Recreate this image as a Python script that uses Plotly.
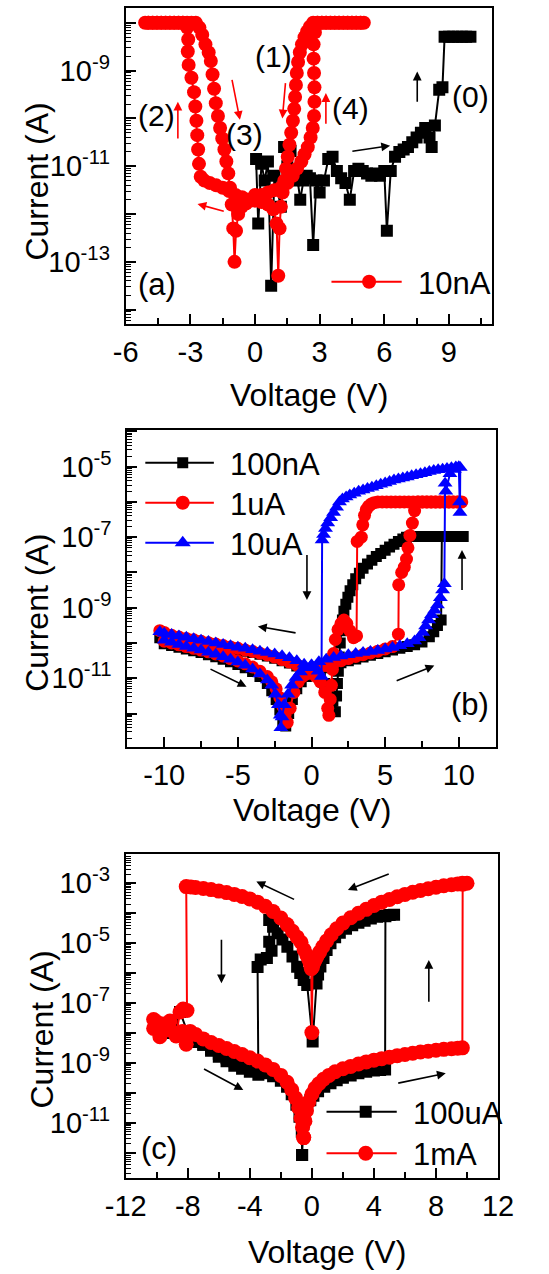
import plotly.graph_objects as go

W, H = 549, 1274
FONT = "Liberation Sans, Arial, Helvetica, sans-serif"

# ---------------- Panel (a) ----------------
a_black_V = [0.05, 0.15, 0.3, 0.45, 0.6, 0.75, 0.9, 1.05, 1.2, 1.35, 1.5, 1.65, 1.8, 1.95, 2.1, 2.25, 2.4, 2.55, 2.7, 2.85,
             3.0, 3.2, 3.4, 3.6, 3.8, 4.0, 4.2, 4.4, 4.6, 4.8, 5.0, 5.2, 5.4, 5.6, 5.8, 6.0, 6.12, 6.3, 6.5, 6.7,
             6.9, 7.1, 7.3, 7.5, 7.7, 7.9, 8.1, 8.2, 8.35, 8.55, 8.7, 8.8, 9.0, 9.2, 9.4, 9.6, 9.8, 10.0]
a_black_logI = [-10.85, -12.2, -10.95, -11.3, -10.9, -13.5, -11.2, -11.5, -11.85, -10.6, -11.0, -10.68, -11.3, -11.2, -11.7, -11.3, -11.2, -11.25, -12.65, -11.3,
                -11.55, -11.3, -10.85, -10.8, -11.1, -11.25, -11.35, -11.7, -11.1, -11.05, -11.1, -11.15, -11.2, -11.15, -11.2, -11.1, -12.35, -11.1, -10.8, -10.7,
                -10.65, -10.6, -10.5, -10.4, -10.3, -10.2, -10.4, -10.6, -10.15, -9.4, -9.35, -8.29, -8.29, -8.29, -8.29, -8.29, -8.29, -8.29]

a_red_V_set4 = [0.0, 0.3, 0.6, 0.9, 1.2, 1.5, 1.75, 1.95, 2.15, 2.3, 2.45, 2.58, 2.68, 2.74, 2.76, 2.76, 2.74, 2.72, 2.72, 2.78,
                2.9, 3.1, 3.3, 3.5, 3.7, 3.9, 4.1, 4.3, 4.5, 4.7, 4.9, 5.05]
a_red_logI_set4 = [-11.6, -11.6, -11.55, -11.5, -11.45, -11.35, -11.2, -11.05, -10.9, -10.75, -10.6, -10.4, -10.2, -9.95, -9.65, -9.35, -9.05, -8.75, -8.45, -8.2,
                   -8.0, -8.0, -8.0, -8.0, -8.0, -8.0, -8.0, -8.0, -8.0, -8.0, -8.0, -8.0]
a_red_V_reset1 = [4.9, 4.7, 4.5, 4.3, 4.1, 3.9, 3.7, 3.5, 3.3, 3.1, 2.9, 2.7, 2.55, 2.42, 2.3, 2.18, 2.08, 2.0, 1.94, 1.9,
                  1.86, 1.82, 1.76, 1.68, 1.6, 1.52, 1.44, 1.36, 1.28, 1.2, 1.14, 1.08, 1.0, 0.85, 0.6, 0.3, 0.0]
a_red_logI_reset1 = [-8.0, -8.0, -8.0, -8.0, -8.0, -8.0, -8.0, -8.0, -8.0, -8.0, -8.0, -8.0, -8.08, -8.18, -8.3, -8.45, -8.62, -8.82, -9.05, -9.3,
                     -9.55, -9.8, -10.05, -10.3, -10.55, -10.8, -11.05, -11.3, -11.55, -11.85, -12.3, -13.29, -12.2, -11.9, -11.8, -11.75, -11.72]
a_red_V_set2 = [-0.3, -0.6, -0.9, -1.2, -1.5, -1.8, -2.1, -2.35, -2.52, -2.6, -2.64, -2.68, -2.72, -2.77, -2.83, -2.95, -3.08, -3.12, -3.1, -3.15,
                -3.35, -3.55, -3.75, -3.95, -4.15, -4.35, -4.55, -4.75, -4.95, -5.1]
a_red_logI_set2 = [-11.7, -11.65, -11.6, -11.52, -11.45, -11.4, -11.35, -11.3, -11.22, -10.95, -10.65, -10.35, -10.05, -9.75, -9.45, -9.15, -8.88, -8.6, -8.35, -8.1,
                   -8.0, -8.0, -8.0, -8.0, -8.0, -8.0, -8.0, -8.0, -8.0, -8.0]
a_red_V_reset3 = [-4.95, -4.75, -4.55, -4.35, -4.15, -3.95, -3.75, -3.55, -3.35, -3.15, -2.95, -2.75, -2.58, -2.45, -2.3, -2.15, -2.05, -1.97, -1.9, -1.82,
                  -1.72, -1.62, -1.52, -1.42, -1.33, -1.24, -1.16, -1.08, -1.01, -0.95, -0.88, -0.78, -0.62, -0.42, -0.2, 0.0]
a_red_logI_reset3 = [-8.0, -8.0, -8.0, -8.0, -8.0, -8.0, -8.0, -8.0, -8.0, -8.0, -8.0, -8.0, -8.1, -8.25, -8.45, -8.62, -8.8, -9.08, -9.38, -9.68,
                     -9.95, -10.2, -10.42, -10.65, -10.9, -11.15, -11.45, -11.8, -12.3, -13.0, -12.35, -12.0, -11.85, -11.78, -11.72, -11.68]

# ---------------- Panel (b) ----------------
b_N1_V = [-0.5, -1.0, -1.5, -2.0, -2.5, -3.0, -3.5, -4.0, -4.5, -5.0, -5.5, -6.0, -6.5, -7.0, -7.5, -8.0, -8.5, -9.0, -9.5, -10.0, -10.3]

b_black_V_P = [0.0, 0.5, 1.0, 1.5, 2.0, 2.5, 3.0, 3.5, 4.0, 4.5, 5.0, 5.5, 6.0, 6.5, 7.0, 7.5, 8.0, 8.3, 8.55, 8.8,
               8.85, 9.1, 9.35, 9.6, 9.85, 10.1, 10.3]
b_black_logI_P = [-10.85, -10.78, -10.7, -10.63, -10.56, -10.5, -10.45, -10.4, -10.35, -10.3, -10.25, -10.2, -10.15, -10.1, -10.05, -9.97, -9.82, -9.68, -9.5, -9.35,
                  -6.98, -6.98, -6.98, -6.98, -6.98, -6.98, -6.98]
b_black_V_R = [10.0, 9.7, 9.4, 9.1, 8.8, 8.5, 8.2, 7.9, 7.6, 7.3, 7.0, 6.7, 6.45, 6.2, 5.9, 5.6, 5.3, 5.0, 4.7, 4.4,
               4.1, 3.8, 3.5, 3.25, 3.0, 2.8, 2.62, 2.47, 2.33, 2.2, 2.1, 2.02, 1.95, 1.88, 1.82, 1.76, 1.7, 1.62, 1.45, 1.2,
               0.9, 0.6, 0.3, 0.0]
b_black_logI_R = [-6.98, -6.98, -6.98, -6.98, -6.98, -6.98, -6.98, -6.98, -6.98, -6.98, -6.98, -6.98, -7.0, -7.05, -7.12, -7.2, -7.28, -7.37, -7.46, -7.55,
                  -7.65, -7.76, -7.88, -8.02, -8.18, -8.35, -8.52, -8.7, -8.9, -9.1, -9.35, -9.65, -10.0, -10.4, -10.8, -11.15, -11.5, -11.95, -11.65, -11.35,
                  -11.15, -11.0, -10.9, -10.82]
b_black_logI_N1 = [-10.75, -10.65, -10.57, -10.5, -10.43, -10.37, -10.32, -10.27, -10.23, -10.19, -10.15, -10.11, -10.07, -10.03, -9.99, -9.95, -9.91, -9.88, -9.85, -9.83, -9.85]
b_black_V_N2 = [-10.0, -9.5, -9.0, -8.5, -8.0, -7.5, -7.0, -6.5, -6.0, -5.5, -5.0, -4.5, -4.0, -3.5, -3.0, -2.7, -2.4, -2.15, -1.95, -1.75,
                -1.55, -1.3, -1.0, -0.7, -0.35, 0.0]
b_black_logI_N2 = [-10.02, -10.07, -10.12, -10.17, -10.22, -10.27, -10.33, -10.39, -10.46, -10.53, -10.61, -10.7, -10.81, -10.95, -11.15, -11.35, -11.6, -11.9, -12.2, -12.35,
                   -12.0, -11.6, -11.3, -11.1, -10.95, -10.85]

b_red_V_P = [0.0, 0.5, 1.0, 1.5, 2.0, 2.5, 3.0, 3.5, 4.0, 4.5, 5.0, 5.5, 5.9, 5.92, 6.12, 6.3, 6.45, 6.55, 6.68, 6.85,
             7.0, 7.25, 7.55, 7.85, 8.15, 8.45, 8.75, 9.05, 9.35, 9.65, 9.95, 10.2]
b_red_logI_P = [-10.8, -10.72, -10.64, -10.57, -10.5, -10.44, -10.38, -10.33, -10.28, -10.23, -10.17, -10.1, -9.75, -8.35, -8.0, -7.85, -7.62, -7.3, -6.95, -6.6,
                -6.25, -6.0, -6.0, -6.0, -6.0, -6.0, -6.0, -6.0, -6.0, -6.0, -6.0, -6.0]
b_red_V_R = [9.9, 9.6, 9.3, 9.0, 8.7, 8.4, 8.1, 7.8, 7.5, 7.2, 6.9, 6.6, 6.3, 6.0, 5.7, 5.4, 5.1, 4.8, 4.5,
             4.25, 4.05, 3.88, 3.72, 3.6, 3.48, 3.38, 3.1, 3.06, 2.85, 2.6, 2.4, 2.2, 2.0, 1.8, 1.62, 1.5, 1.42, 1.35, 1.27,
             1.18, 1.1, 0.9, 0.6, 0.3, 0.0]
b_red_logI_R = [-6.0, -6.0, -6.0, -6.0, -6.0, -6.0, -6.0, -6.0, -6.0, -6.0, -6.0, -6.0, -6.0, -6.0, -6.0, -6.0, -6.0, -6.0, -6.0,
                -6.02, -6.06, -6.12, -6.22, -6.38, -6.65, -7.0, -7.12, -9.8, -9.85, -9.65, -9.45, -9.35, -9.45, -9.62, -9.9, -10.3, -10.75, -11.2, -11.6,
                -12.05, -11.85, -11.4, -11.1, -10.95, -10.85]
b_red_logI_N1 = [-10.72, -10.62, -10.54, -10.47, -10.4, -10.34, -10.29, -10.24, -10.2, -10.15, -10.11, -10.07, -10.03, -9.99, -9.95, -9.91, -9.87, -9.83, -9.78, -9.7, -9.65]
b_red_V_N2 = [-10.0, -9.5, -9.0, -8.5, -8.0, -7.5, -7.0, -6.5, -6.0, -5.5, -5.0, -4.5, -4.0, -3.5, -3.0, -2.7, -2.4, -2.15, -1.95, -1.8,
              -1.65, -1.45, -1.2, -0.9, -0.6, -0.3, 0.0]
b_red_logI_N2 = [-9.95, -10.0, -10.05, -10.1, -10.15, -10.2, -10.25, -10.31, -10.37, -10.44, -10.51, -10.59, -10.68, -10.8, -10.95, -11.1, -11.3, -11.55, -11.8, -12.05,
                 -12.25, -11.85, -11.4, -11.1, -10.95, -10.87, -10.8]

b_blue_V_P = [0.0, 0.5, 1.0, 1.5, 2.0, 2.5, 3.0, 3.5, 4.0, 4.5, 5.0, 5.5, 6.0, 6.5, 7.0, 7.3, 7.55, 7.75, 7.95, 8.15,
              8.35, 8.55, 8.75, 8.9, 9.02, 9.07, 9.12, 9.4, 9.7, 10.0, 10.05, 10.08, 10.1]
b_blue_logI_P = [-10.62, -10.53, -10.46, -10.41, -10.37, -10.33, -10.3, -10.27, -10.24, -10.21, -10.17, -10.13, -10.08, -10.02, -9.94, -9.85, -9.7, -9.52, -9.35, -9.2,
                 -9.07, -8.92, -8.72, -8.5, -8.32, -5.47, -5.7, -5.2, -5.08, -5.0, -6.0, -6.3, -5.02]
b_blue_V_R = [9.8, 9.5, 9.2, 8.9, 8.6, 8.3, 8.0, 7.7, 7.4, 7.1, 6.8, 6.5, 6.2, 5.9, 5.6, 5.3, 5.0, 4.7, 4.4, 4.1,
              3.8, 3.5, 3.2, 2.9, 2.6, 2.35, 2.1, 1.9, 1.7, 1.5, 1.3, 1.1, 0.95, 0.82, 0.72, 0.68, 0.45, 0.2, 0.0]
b_blue_logI_R = [-5.01, -5.03, -5.05, -5.07, -5.09, -5.11, -5.14, -5.17, -5.2, -5.23, -5.26, -5.29, -5.32, -5.35, -5.38, -5.42, -5.46, -5.5, -5.54, -5.58,
                 -5.62, -5.66, -5.7, -5.75, -5.8, -5.86, -5.92, -6.0, -6.15, -6.3, -6.45, -6.6, -6.75, -6.92, -7.08, -10.95, -10.8, -10.7, -10.65]
b_blue_logI_N1 = [-10.6, -10.5, -10.42, -10.36, -10.31, -10.27, -10.23, -10.19, -10.15, -10.12, -10.08, -10.04, -10.0, -9.96, -9.92, -9.88, -9.84, -9.8, -9.76, -9.72, -9.68]
b_blue_V_N2 = [-10.0, -9.5, -9.0, -8.5, -8.0, -7.5, -7.0, -6.5, -6.0, -5.5, -5.0, -4.5, -4.0, -3.5, -3.0, -2.7, -2.45, -2.25, -2.12, -2.08,
               -2.0, -1.85, -1.6, -1.35, -1.05, -0.75, -0.4, 0.0]
b_blue_logI_N2 = [-9.92, -9.98, -10.04, -10.1, -10.15, -10.2, -10.26, -10.32, -10.39, -10.46, -10.54, -10.63, -10.74, -10.88, -11.05, -11.2, -11.45, -11.75, -12.05, -12.4,
                  -12.1, -11.75, -11.45, -11.2, -10.98, -10.82, -10.7, -10.62]

# ---------------- Panel (c) ----------------
c_red_V_A = [-0.53, -0.45, -0.35, -0.2, 0.0, 0.2, 0.45, 0.75, 1.1, 1.5, 2.0, 2.5, 3.0, 3.5, 4.0, 4.5, 5.0, 5.5, 6.0, 6.5,
             7.0, 7.5, 8.0, 8.5, 9.0, 9.4, 9.7, 9.72, 10.0]
c_red_logI_A = [-11.5, -10.95, -10.6, -10.3, -10.05, -9.85, -9.7, -9.55, -9.42, -9.3, -9.2, -9.12, -9.04, -8.97, -8.91, -8.86, -8.81, -8.76, -8.72, -8.68,
                -8.64, -8.61, -8.58, -8.55, -8.53, -8.51, -8.5, -3.03, -3.0]
c_red_V_B = [9.7, 9.4, 9.0, 8.5, 8.0, 7.5, 7.0, 6.5, 6.0, 5.5, 5.0, 4.5, 4.0, 3.5, 3.0, 2.5, 2.0, 1.6, 1.25, 0.95,
             0.7, 0.5, 0.33, 0.2, 0.1, 0.04, 0.0]
c_red_logI_B = [-3.0, -3.02, -3.05, -3.08, -3.13, -3.18, -3.24, -3.3, -3.37, -3.45, -3.54, -3.63, -3.74, -3.87, -4.0, -4.15, -4.33, -4.52, -4.72, -4.93,
                -5.12, -5.3, -5.45, -5.58, -5.68, -5.8, -7.99]
c_red_V_C = [-0.04, -0.1, -0.2, -0.33, -0.5, -0.7, -0.95, -1.25, -1.6, -2.0, -2.5, -3.0, -3.5, -4.0, -4.5, -5.0, -5.5, -6.0, -6.5, -7.0,
             -7.5, -7.8, -8.1, -8.05]
c_red_logI_C = [-5.85, -5.7, -5.55, -5.4, -5.22, -4.97, -4.8, -4.6, -4.38, -4.16, -3.94, -3.77, -3.63, -3.52, -3.44, -3.37, -3.31, -3.26, -3.21, -3.17,
                -3.14, -3.12, -3.11, -7.25]
c_red_V_D = [-8.3, -8.5, -8.75, -9.15, -9.6, -9.8, -10.2, -10.2, -9.95, -9.55, -9.15, -8.75, -8.35, -8.1, -7.85]
c_red_logI_D = [-7.2, -7.3, -8.1, -7.6, -7.7, -8.13, -7.55, -7.85, -7.65, -7.75, -7.9, -8.0, -7.95, -8.38, -7.95]
c_red_V_E = [-7.5, -7.0, -6.5, -6.0, -5.5, -5.0, -4.5, -4.0, -3.5, -3.0, -2.5, -2.0, -1.6, -1.3, -1.05, -0.85, -0.7, -0.6, -0.53]
c_red_logI_E = [-8.05, -8.2, -8.32, -8.42, -8.52, -8.62, -8.72, -8.83, -8.94, -9.07, -9.22, -9.42, -9.65, -9.9, -10.18, -10.5, -10.85, -11.15, -11.5]

c_black_V_A = [-0.63, -0.55, -0.45, -0.3, -0.1, 0.1, 0.4, 0.8, 1.2, 1.6, 2.0, 2.5, 3.0, 3.5, 4.0, 4.4, 4.72, 4.74, 5.0, 5.3]
c_black_logI_A = [-12.08, -11.05, -10.7, -10.45, -10.25, -10.1, -9.95, -9.8, -9.68, -9.58, -9.5, -9.42, -9.35, -9.3, -9.26, -9.24, -9.22, -4.1, -4.06, -4.05]
c_black_V_B = [5.0, 4.6, 4.2, 3.8, 3.4, 3.0, 2.6, 2.2, 1.8, 1.5, 1.2, 0.95, 0.75, 0.55, 0.4, 0.3, 0.05]
c_black_logI_B = [-4.06, -4.08, -4.12, -4.18, -4.25, -4.32, -4.4, -4.52, -4.65, -4.8, -5.0, -5.23, -5.5, -5.78, -6.05, -6.35, -8.29]
c_black_V_C = [-0.3, -0.53, -0.75, -0.95, -1.25, -1.58, -1.9, -2.21, -2.5, -2.75, -2.75, -2.6, -2.9, -3.3, -3.5, -3.45]
c_black_logI_C = [-6.4, -6.23, -6.0, -5.79, -5.45, -5.12, -4.88, -4.67, -4.45, -4.23, -4.95, -5.25, -5.5, -5.55, -5.8, -9.4]
c_black_V_D = [-4.0, -4.5, -5.0, -5.5, -6.0, -6.5, -7.0, -7.5, -8.0, -8.5, -9.0, -9.5, -10.0,
               -9.5, -9.0, -8.5, -8.0, -7.5, -7.0, -6.5, -6.0, -5.5, -5.0, -4.5, -4.0, -3.5, -3.0, -2.5, -2.0, -1.6,
               -1.3, -1.0, -0.8, -0.65, -0.63]
c_black_logI_D = [-9.3, -9.2, -9.1, -8.95, -8.8, -8.6, -8.4, -8.2, -8.0, -7.3, -7.7, -7.8, -7.7,
                  -7.9, -8.0, -8.1, -8.2, -8.3, -8.4, -8.55, -8.7, -8.85, -8.95, -9.05, -9.15, -9.25, -9.35, -9.45, -9.6, -9.8,
                  -10.05, -10.4, -10.8, -11.3, -12.08]

# ---------------- assemble sweeps ----------------
a_red_V = a_red_V_set4 + a_red_V_reset1 + a_red_V_set2 + a_red_V_reset3
a_red_logI = a_red_logI_set4 + a_red_logI_reset1 + a_red_logI_set2 + a_red_logI_reset3
b_black_V = b_black_V_P + b_black_V_R + b_N1_V + b_black_V_N2
b_black_logI = b_black_logI_P + b_black_logI_R + b_black_logI_N1 + b_black_logI_N2
b_red_V = b_red_V_P + b_red_V_R + b_N1_V + b_red_V_N2
b_red_logI = b_red_logI_P + b_red_logI_R + b_red_logI_N1 + b_red_logI_N2
b_blue_V = b_blue_V_P + b_blue_V_R + b_N1_V + b_blue_V_N2
b_blue_logI = b_blue_logI_P + b_blue_logI_R + b_blue_logI_N1 + b_blue_logI_N2
c_red_V = c_red_V_A + c_red_V_B + c_red_V_C + c_red_V_D + c_red_V_E
c_red_logI = c_red_logI_A + c_red_logI_B + c_red_logI_C + c_red_logI_D + c_red_logI_E
c_black_V = c_black_V_A + c_black_V_B + c_black_V_C + c_black_V_D
c_black_logI = c_black_logI_A + c_black_logI_B + c_black_logI_C + c_black_logI_D

legend_names = ["10nA", "100nA", "1uA", "10uA", "100uA", "1mA"]

a_xticks = [-6, -3, 0, 3, 6, 9]
b_xticks = [-10, -5, 0, 5, 10]
c_xticks = [-12, -8, -4, 0, 4, 8, 12]
a_ylabels = [-9, -11, -13]
b_ylabels = [-5, -7, -9, -11]
c_ylabels = [-3, -5, -7, -9, -11]


def cur(logs):
    return [10 ** v for v in logs]


fig = go.Figure()


def add(V, L, color, symbol, size, name, xa, ya):
    assert len(V) == len(L), name
    fig.add_trace(go.Scatter(
        x=V, y=cur(L), mode="lines+markers", name=name,
        line=dict(color=color, width=2),
        marker=dict(symbol=symbol, size=size, color=color, line=dict(width=0)),
        xaxis=xa, yaxis=ya, showlegend=False, hoverinfo="skip"))


def legend_entry(name, color, symbol, size, xa, ya, legend):
    # marker-only legend sample (its long sample line is a shape); it lives on the
    # overlay axis that carries the unlabeled decade ticks
    fig.add_trace(go.Scatter(
        x=[None], y=[None], mode="markers", name=name,
        marker=dict(symbol=symbol, size=size, color=color, line=dict(width=0)),
        xaxis=xa, yaxis=ya, legend=legend, showlegend=True, hoverinfo="skip"))


add(a_black_V, a_black_logI, "#000000", "square", 12, "forming", "x", "y")
add(a_red_V, a_red_logI, "#FF0000", "circle", 14, "10nA", "x", "y")
add(b_black_V, b_black_logI, "#000000", "square", 11, "100nA", "x2", "y2")
add(b_red_V, b_red_logI, "#FF0000", "circle", 13, "1uA", "x2", "y2")
add(b_blue_V, b_blue_logI, "#0000FF", "triangle-up", 13, "10uA", "x2", "y2")
add(c_black_V, c_black_logI, "#000000", "square", 12, "100uA", "x3", "y3")
add(c_red_V, c_red_logI, "#FF0000", "circle", 15, "1mA", "x3", "y3")

legend_entry(legend_names[0], "#FF0000", "circle", 14, "x", "y4", "legend")
legend_entry(legend_names[1], "#000000", "square", 11, "x2", "y5", "legend2")
legend_entry(legend_names[2], "#FF0000", "circle", 14, "x2", "y5", "legend3")
legend_entry(legend_names[3], "#0000FF", "triangle-up", 14, "x2", "y5", "legend4")
legend_entry(legend_names[4], "#000000", "square", 12, "x3", "y6", "legend5")
legend_entry(legend_names[5], "#FF0000", "circle", 15, "x3", "y6", "legend6")

DX = -12.0


def fx(p):
    return (p + DX) / W


def fy(p):
    return 1 - p / H


def xaxis(dom, rng, majors, minors, anchor):
    return dict(domain=dom, range=rng, anchor=anchor,
                tickmode="array", tickvals=majors, ticktext=[str(v) for v in majors],
                ticks="inside", ticklen=10, tickwidth=2, tickcolor="black",
                minor=dict(tickmode="array", tickvals=minors, ticks="inside", ticklen=6, tickwidth=1.5, tickcolor="black", showgrid=False),
                showline=True, linewidth=2, linecolor="black", mirror=True,
                showgrid=False, zeroline=False, ticklabelstandoff=1,
                tickfont=dict(family=FONT, size=29, color="black"))


def decades(rng):
    return list(range(int(rng[0]) - 1, int(rng[1]) + 2))


def yaxis(dom, rng, labeled, anchor):
    mins = [m * 10.0 ** d for d in decades(rng) for m in range(2, 10)]
    return dict(domain=dom, range=rng, type="log", anchor=anchor,
                tickmode="array", tickvals=[10.0 ** d for d in labeled],
                ticktext=["10<sup>%d</sup>" % d for d in labeled],
                ticks="inside", ticklen=10, tickwidth=2, tickcolor="black",
                minor=dict(tickmode="array", tickvals=mins, ticks="inside", ticklen=5, tickwidth=1.2, tickcolor="black", showgrid=False),
                showline=True, linewidth=2, linecolor="black", mirror=True,
                showgrid=False, zeroline=False, ticklabelstandoff=8,
                tickfont=dict(family=FONT, size=29, color="black"))


def decade_ticks(over, rng, anchor):
    # overlay axis: long inside ticks on every decade, no labels
    return dict(overlaying=over, anchor=anchor, side="left", type="log", range=rng,
                tickmode="array", tickvals=[10.0 ** d for d in decades(rng)],
                ticks="inside", ticklen=10, tickwidth=2, tickcolor="black",
                showticklabels=False, showline=False, showgrid=False, zeroline=False)


a_yr, b_yr, c_yr = [-14.3, -7.69], [-12.94, -3.96], [-12.86, -2.02]

layout = dict(
    width=W, height=H, margin=dict(l=0, r=0, t=0, b=0),
    paper_bgcolor="white", plot_bgcolor="white", showlegend=True,
    font=dict(family=FONT, color="black"),
    xaxis=xaxis([fx(124.3), fx(517.5)], [-6, 11.02], a_xticks, [-4.5, -1.5, 1.5, 4.5, 7.5, 10.5], "y"),
    yaxis=yaxis([fy(324), fy(8)], a_yr, a_ylabels, "x"),
    xaxis2=xaxis([fx(126.1), fx(521.7)], [-12.5, 12.55], b_xticks, [-7.5, -2.5, 2.5, 7.5], "y2"),
    yaxis2=yaxis([fy(746.7), fy(430)], b_yr, b_ylabels, "x2"),
    xaxis3=xaxis([fx(124.3), fx(523.5)], [-12, 12], c_xticks, [-10, -6, -2, 2, 6, 10], "y3"),
    yaxis3=yaxis([fy(1178.3), fy(854)], c_yr, c_ylabels, "x3"),
    yaxis4=decade_ticks("y", a_yr, "x"),
    yaxis5=decade_ticks("y2", b_yr, "x2"),
    yaxis6=decade_ticks("y3", c_yr, "x3"),
)

LEG_FONT = 31
ITEM_H = 1.3 * LEG_FONT + 3          # plotly legend item height
CENTER_OFF = 5 + ITEM_H / 2          # item centre below legend top


def leg(marker_x, text_x, center_y):
    iw = max(30, 2 * (text_x - marker_x) - 10)
    return dict(x=fx(marker_x - (iw + 10) / 2), y=fy(center_y - CENTER_OFF), xanchor="left", yanchor="top",
                bgcolor="rgba(0,0,0,0)", borderwidth=0, itemwidth=iw,
                font=dict(family=FONT, size=LEG_FONT, color="black"))


leg_rows = [  # (marker x, text x, centre y, line x0, line x1, colour)
    (381.7, 430.7, 281.7, 344.9, 420.2, "#FF0000"),
    (182.0, 229.3, 462.7, 145.3, 218.8, "#000000"),
    (182.0, 229.3, 502.7, 145.3, 218.8, "#FF0000"),
    (182.0, 229.3, 542.7, 145.3, 218.8, "#0000FF"),
    (378.2, 425.4, 1111.7, 339.6, 414.9, "#000000"),
    (378.2, 425.4, 1153.3, 339.6, 414.9, "#FF0000"),
]
for i, row in enumerate(leg_rows):
    key = "legend" if i == 0 else "legend%d" % (i + 1)
    layout[key] = leg(row[0], row[1], row[2])

fig.update_layout(**layout)

ann = []


def label(text, x, y, xr, yr, size=30):
    ann.append(dict(text=text, x=x, y=y, xref=xr, yref=yr, showarrow=False,
                    font=dict(family=FONT, size=size, color="black"), xanchor="center", yanchor="middle"))


def arrow(x, y, ax, ay, xr, yr, color):
    ann.append(dict(text="", x=x, y=y, ax=ax, ay=ay, xref=xr, yref=yr, axref=xr, ayref=yr,
                    showarrow=True, arrowhead=2, arrowsize=1.1, arrowwidth=1.6, arrowcolor=color,
                    standoff=0, startstandoff=0))


# panel (a) labels and arrows
label("(1)", 0.86, -8.71, "x", "y")
label("(2)", -4.59, -9.93, "x", "y")
label("(3)", -0.47, -10.34, "x", "y")
label("(4)", 4.42, -9.79, "x", "y")
label("(0)", 10.02, -9.54, "x", "y")
label("(a)", -4.56, -13.48, "x", "y", 31)
arrow(-3.58, -9.65, -3.58, -10.45, "x", "y", "#FF0000")
arrow(-0.7, -10.03, -1.08, -9.16, "x", "y", "#FF0000")
arrow(1.27, -10.0, 1.42, -9.23, "x", "y", "#FF0000")
arrow(3.29, -9.47, 3.29, -10.14, "x", "y", "#FF0000")
arrow(-2.67, -11.79, -1.38, -11.95, "x", "y", "#FF0000")
arrow(6.27, -10.57, 4.45, -10.69, "x", "y", "#000000")
arrow(7.53, -9.02, 7.53, -9.68, "x", "y", "#000000")

# panel (b)
label("(b)", 10.78, -11.75, "x2", "y2", 31)
arrow(-3.64, -9.53, -0.98, -9.72, "x2", "y2", "#000000")
arrow(-4.41, -11.24, -6.96, -10.72, "x2", "y2", "#000000")
arrow(8.34, -10.64, 5.68, -11.09, "x2", "y2", "#000000")
arrow(-0.31, -8.78, -0.31, -7.46, "x2", "y2", "#000000")
arrow(10.22, -7.36, 10.22, -8.54, "x2", "y2", "#000000")

# panel (c)
label("(c)", -9.83, -11.86, "x3", "y3", 31)
arrow(2.32, -3.22, 5.05, -2.67, "x3", "y3", "#000000")
arrow(-3.58, -2.94, -1.05, -3.56, "x3", "y3", "#000000")
arrow(-5.83, -6.34, -5.83, -4.84, "x3", "y3", "#000000")
arrow(7.54, -5.56, 7.54, -7.01, "x3", "y3", "#000000")
arrow(-4.42, -9.91, -7.05, -9.18, "x3", "y3", "#000000")
arrow(8.63, -9.35, 5.47, -9.69, "x3", "y3", "#000000")

# axis titles
for (txt, x, y, ang) in [("Voltage (V)", fx(320.4), fy(395), 0), ("Voltage (V)", fx(324), fy(810), 0),
                         ("Voltage (V)", fx(340), fy(1252), 0),
                         ("Current (A)", fx(29), fy(181.7), -90), ("Current (A)", fx(29), fy(613), -90),
                         ("Current (A)", fx(34), fy(1030), -90)]:
    ann.append(dict(text=txt, x=x, y=y, xref="paper", yref="paper", showarrow=False, textangle=ang,
                    font=dict(family=FONT, size=32, color="black"), xanchor="center", yanchor="middle"))

fig.update_layout(annotations=ann)

# long legend sample lines, drawn beneath the legend markers
shapes = []
for row in leg_rows:
    shapes.append(dict(type="line", xref="paper", yref="paper", x0=fx(row[3]), x1=fx(row[4]),
                       y0=fy(row[2]), y1=fy(row[2]), line=dict(color=row[5], width=2), layer="above"))
fig.update_layout(shapes=shapes)

fig.write_html("out.html", config={"displayModeBar": False},
               post_script="document.body.style.margin='0px';document.body.style.overflow='hidden';")
